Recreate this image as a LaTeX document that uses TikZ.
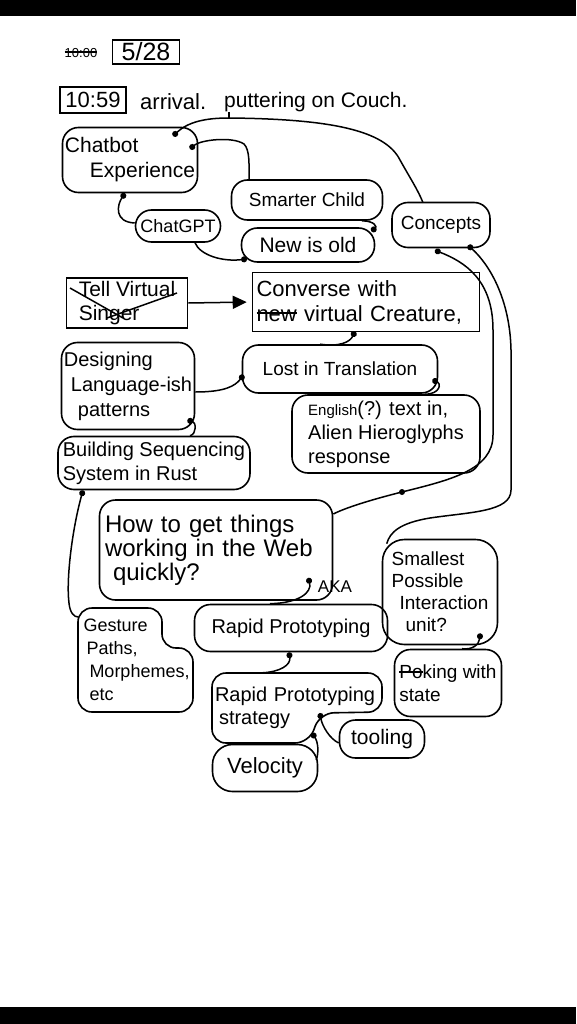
\documentclass[tikz,border=0pt]{standalone}
\usepackage{fontspec}
\setmainfont{Liberation Sans}
\usetikzlibrary{arrows.meta,calc}
\newcommand\myfs[2]{\fontsize{#1}{#2}\selectfont}
\newcommand\mystrk[1]{\leavevmode\setbox0\hbox{#1}\rlap{\rule[0.3em]{\wd0}{2pt}}\box0\relax}
\tikzset{
  blob/.style={draw, line width=1.6pt, rounded corners=16pt, align=left, inner sep=2pt},
  bare/.style={align=left, inner sep=2pt},
  outline/.style={line width=1.6pt, rounded corners=14pt},
  sqbox/.style={draw, line width=1.6pt, align=left, inner sep=2pt},
  conn/.style={line width=1.5pt},
  dotstart/.style={{Circle[length=6pt]}-},
  dotend/.style={-{Circle[length=6pt]}},
  plain/.style={inner sep=0pt}
}
\begin{document}
\begin{tikzpicture}[x=1pt,y=-1pt]
\useasboundingbox (0,0) rectangle (576,1024);
\fill[black] (0,0) rectangle (576,16);
\fill[black] (0,1007) rectangle (576,1024);

% header
\node[plain, font=\myfs{13}{15}] (old) at (81,53) {10:00};
\draw[line width=1.3pt] ($(old.west)+(0,-1)$) -- ($(old.east)+(0,-1)$);
\node[sqbox, minimum width=67pt, minimum height=24pt, inner sep=1pt, font=\myfs{25}{26}] (date) at (146,52) {5/28};
\node[sqbox, minimum width=66pt, minimum height=26pt, inner sep=1pt, font=\myfs{22}{24}] (time) at (93,100) {10:59};
\node[plain, anchor=west, font=\myfs{22}{24}] (arrival) at (140,102) {arrival.};
\node[plain, anchor=west, font=\myfs{21}{24}] (putter) at (224,102) {puttering on Couch.};

% nodes
\node[blob, minimum width=135pt, minimum height=65pt, font=\myfs{21}{25}] (chatbot) at (130,160) {Chatbot\\\hspace*{25pt}Experience};
\node[blob, minimum width=151pt, minimum height=40pt, font=\myfs{19}{24}] (smarter) at (307,200) {Smarter Child};
\node[blob, minimum width=85pt, minimum height=32pt, font=\myfs{18}{22}] (chatgpt) at (178,226) {ChatGPT};
\node[blob, minimum width=133pt, minimum height=34pt, font=\myfs{21}{24}] (newold) at (308,245) {New is old};
\node[blob, minimum width=98pt, minimum height=45pt, font=\myfs{19}{24}] (concepts) at (441,225) {Concepts};
\node[sqbox, minimum width=121pt, minimum height=50pt, font=\myfs{21}{24}] (singer) at (127,303) {Tell Virtual\\Singer};
\node[sqbox, minimum width=227pt, minimum height=59pt, text width=219pt, font=\myfs{22}{25}] (converse) at (366,302) {Converse with\\\mystrk{new} virtual Creature,};
\node[blob, minimum width=195pt, minimum height=48pt, font=\myfs{19}{24}] (lost) at (340,369) {Lost in Translation};
\node[blob, minimum width=188pt, minimum height=78pt, font=\myfs{20}{24}] (english) at (386,434) {{\myfs{15}{24}English}(?) text in,\\Alien Hieroglyphs\\response};
\node[blob, minimum width=133pt, minimum height=87pt, font=\myfs{20}{25}] (designing) at (128,386) {Designing\\\hspace*{7pt}Language-ish\\\hspace*{14pt}patterns};
\node[blob, minimum width=192pt, minimum height=53pt, font=\myfs{20}{24}] (building) at (154,463) {Building Sequencing\\System in Rust};
\node[blob, minimum width=233pt, minimum height=100pt, text width=222pt, font=\myfs{24}{24}] (howto) at (216,550) {How to get things\\working in the Web\\\hspace*{8pt}quickly?};
\node[plain, font=\myfs{17}{20}] (aka) at (335,587) {AKA};
\node[blob, minimum width=193pt, minimum height=47pt, font=\myfs{20}{24}] (rapid) at (291,628) {Rapid Prototyping};
\node[bare, minimum width=115pt, minimum height=105pt, text width=111pt, font=\myfs{18}{23}] (gesture) at (135,660) {\hspace*{4pt}Gesture\\\hspace*{7pt}Paths,\\\hspace*{10pt}Morphemes,\\\hspace*{10pt}etc};
\draw[outline] ($(gesture.center)+(-57,-52)$) -- ($(gesture.center)+(27,-52)$) -- ($(gesture.center)+(27,-12)$) -- ($(gesture.center)+(58,-12)$) -- ($(gesture.center)+(58,52)$) -- ($(gesture.center)+(-57,52)$) -- cycle;
\node[blob, minimum width=115pt, minimum height=105pt, rounded corners=22pt, font=\myfs{19}{22}] (smallest) at (440,592) {Smallest\\Possible\\\hspace*{8pt}Interaction\\\hspace*{14pt}unit?};
\node[blob, minimum width=107pt, minimum height=67pt, font=\myfs{19}{23}] (poking) at (448,683) {\mystrk{Po}king with\\state};
\node[bare, minimum width=170pt, minimum height=70pt, text width=164pt, font=\myfs{20}{23}] (strategy) at (297,708) {Rapid Prototyping\\\hspace*{4pt}strategy};
\draw[outline] ($(strategy.center)+(-85,-35)$) -- ($(strategy.center)+(85,-35)$) -- ($(strategy.center)+(85,4)$) -- ($(strategy.center)+(23,5)$) coordinate (notch) -- ($(strategy.center)+(12,35)$) -- ($(strategy.center)+(-85,35)$) -- cycle;
\node[blob, minimum width=85pt, minimum height=38pt, font=\myfs{21}{24}] (tooling) at (382,739) {tooling};
\node[blob, minimum width=105pt, minimum height=47pt, rounded corners=20pt, font=\myfs{22}{24}] (velocity) at (265,768) {Velocity};

% connectors
\draw[conn, dotstart] ($(chatbot.center)+(43,-24)$) .. controls (188,122) and (205,118) .. (229,118) coordinate (topline) .. controls (330,119) and (385,130) .. (400,160) .. controls (410,178) and (418,190) .. ($(concepts.north)+(-18,1)$);
\draw[conn] (topline |- putter.south) -- (topline);
\draw[conn, dotstart] ($(chatbot.center)+(60,-11)$) .. controls (200,140) and (232,136) .. (244,144) .. controls (250,150) and (249,165) .. ($(smarter.north)+(-58,0)$);
\draw[conn, dotstart] ($(chatbot.south)+(-5,0)$) .. controls (117,205) and (114,222) .. ($(chatgpt.west)+(0,-3)$);
\draw[conn, dotend] ($(chatgpt.south)+(17,0)$) .. controls (200,255) and (222,262) .. ($(newold.center)+(-61,14)$);
\draw[conn, dotend] ($(smarter.south)+(55,0)$) .. controls (375,221) and (377,227) .. ($(newold.north east)+(-4,4)$);
\draw[conn, dotstart] ($(concepts.south)+(-6,2)$) .. controls (465,262) and (493,280) .. (493,330) -- (493,435) .. controls (493,470) and (450,480) .. (402,492) .. controls (370,500) and (345,508) .. ($(howto.east)+(0,-36)$);
\fill (402,492) circle (3);
\draw[conn, dotstart] ($(concepts.south)+(27,-3)$) .. controls (490,265) and (510,300) .. (511,350) -- (511,490) .. controls (511,512) and (470,512) .. (430,518) .. controls (400,523) and (390,532) .. ($(smallest.north west)+(5,5)$);
\draw[conn, -{Triangle[length=14pt,width=13pt]}, shorten >=5pt] (singer.east) -- (converse.west);
\draw[conn] ($(singer.center)+(-57,-15)$) -- ($(singer.center)+(-4,15)$);
\draw[conn] ($(singer.center)+(50,-10)$) -- ($(singer.center)+(-20,15)$);
\draw[conn, dotstart] ($(converse.south)+(-11,-1)$) .. controls (350,342) and (340,347) .. ($(lost.north)+(-20,0)$);
\draw[conn, dotend] ($(designing.east)+(0,6)$) .. controls (225,392) and (235,386) .. ($(lost.west)+(2,6)$);
\draw[conn, dotstart] ($(lost.east)+(-6,11)$) .. controls (441,383) and (441,394) .. ($(english.north)+(39,0)$);
\draw[conn, dotstart] ($(designing.south east)+(-8,-10)$) .. controls (196,422) and (197,434) .. ($(building.north)+(36,0)$);
\draw[conn, dotstart] ($(building.south)+(-71,0)$) .. controls (72,530) and (66,580) .. (69,603) .. controls (70,613) and (74,617) .. ($(gesture.west)+(1,-43)$);
\draw[conn, dotstart] ($(howto.south east)+(-25,-23)$) .. controls (312,592) and (300,603) .. ($(rapid.north)+(-21,0)$);
\draw[conn, dotstart] ($(rapid.south)+(-2,0)$) .. controls (291,665) and (280,672) .. ($(strategy.north)+(-35,0)$);
\draw[conn, dotstart] ($(smallest.south east)+(-18,-12)$) .. controls (479,645) and (472,650) .. ($(poking.north)+(14,0)$);
\draw[conn, dotstart] (notch) .. controls (322,726) and (330,739) .. ($(tooling.west)+(0,4)$);
\draw[conn, dotstart] ($(strategy.center)+(15,25)$) .. controls (318,742) and (319,752) .. ($(velocity.east)+(-2,-8)$);
\end{tikzpicture}
\end{document}
